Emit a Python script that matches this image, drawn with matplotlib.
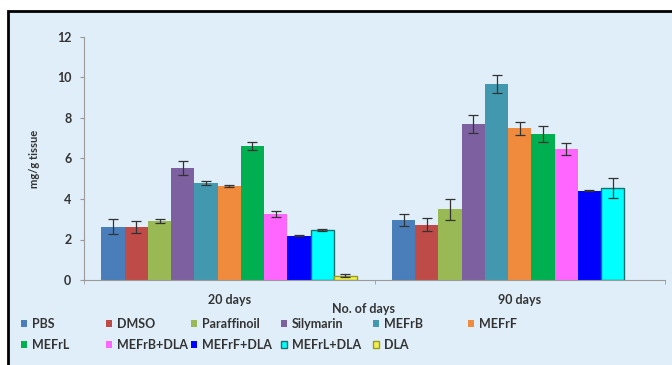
import matplotlib.pyplot as plt
import numpy as np
from matplotlib.patches import Rectangle

plt.rcParams.update({
    "font.family": ["Lato", "DejaVu Sans"], "font.weight": "bold",
    "font.size": 9,
})

days = ["20 days", "90 days"]
groups = ["PBS", "DMSO", "Paraffinoil", "Silymarin", "MEFrB", "MEFrF",
          "MEFrL", "MEFrB+DLA", "MEFrF+DLA", "MEFrL+DLA", "DLA"]
# mean values (mg/g tissue) for 20 days and 90 days; DLA has no 90-day value
means_20 = [2.63, 2.63, 2.91, 5.55, 4.79, 4.62, 6.63, 3.26, 2.19, 2.49, 0.21]
means_90 = [2.96, 2.73, 3.49, 7.69, 9.66, 7.49, 7.21, 6.47, 4.41, 4.53, np.nan]
err_20 = [0.38, 0.30, 0.10, 0.35, 0.08, 0.05, 0.20, 0.15, 0.03, 0.05, 0.08]
err_90 = [0.28, 0.32, 0.53, 0.44, 0.44, 0.31, 0.40, 0.32, 0.02, 0.49, 0.0]

colors = ["#4A7EBB", "#BE4B48", "#98B954", "#7D60A0", "#4198AF", "#F08A3C",
          "#00B050", "#FF66FF", "#0000FF", "#00FFFF", "#F0F050"]
edges = ["none"] * 9 + ["#1F6F6F", "#9A9A20"]

BG = "#DFEEF8"
AXIS = "#9A9A9A"
TXT = "#333333"

fig = plt.figure(figsize=(6.72, 3.65), dpi=100, facecolor="white")
# light blue panel with black top/left frame
fig.add_artist(Rectangle((8 / 672, -0.2), 1.2, (365 - 11) / 365 + 0.2,
                         transform=fig.transFigure, facecolor=BG,
                         edgecolor="black", linewidth=2, zorder=-10))

ax = fig.add_axes([84 / 672, 85 / 365, 581 / 672, 243 / 365])
ax.set_facecolor("none")

x = np.arange(len(days))
width = 0.08
handles = []
for i, name in enumerate(groups):
    vals = [means_20[i], means_90[i]]
    errs = [err_20[i], err_90[i]]
    b = ax.bar(x + (i - 5) * width, vals, width, color=colors[i],
               edgecolor=edges[i], linewidth=1.0, label=name,
               yerr=errs, capsize=3.5,
               error_kw=dict(ecolor="#333333", elinewidth=0.9, capthick=0.9))
    handles.append(b)

ax.set_xlim(-0.5, 1.5)
ax.set_ylim(0, 12)
ax.set_yticks(range(0, 13, 2))
ax.set_xticks(x)
ax.set_xticklabels(days, color=TXT)
ax.set_xticks([-0.5, 0.5, 1.5], minor=True)
ax.tick_params(axis="x", which="major", length=0, pad=10)
ax.tick_params(axis="x", which="minor", length=3, color=AXIS)
ax.tick_params(axis="y", length=3, color=AXIS, labelcolor=TXT, pad=6)
for s in ["top", "right"]:
    ax.spines[s].set_visible(False)
for s in ["left", "bottom"]:
    ax.spines[s].set_color(AXIS)

ax.set_ylabel("mg/g tissue", fontsize=8, fontweight="bold", color=TXT,
              labelpad=12)
fig.text(363 / 672, 1 - 309 / 365, "No. of days", ha="center", va="center",
         color=TXT)

# legend laid out in six columns, two rows
col_x = [21, 106, 191, 281, 373, 468]
for c, cx in enumerate(col_x):
    leg = fig.legend(handles=handles[c::6], loc="upper left",
                     bbox_to_anchor=(cx / 672, 1 - 318 / 365),
                     frameon=False, handlelength=0.5, handleheight=0.5,
                     handletextpad=0.35, labelspacing=0.7, borderpad=0,
                     borderaxespad=0, labelcolor=TXT)

fig.savefig("out.png", dpi=100, facecolor=fig.get_facecolor())
